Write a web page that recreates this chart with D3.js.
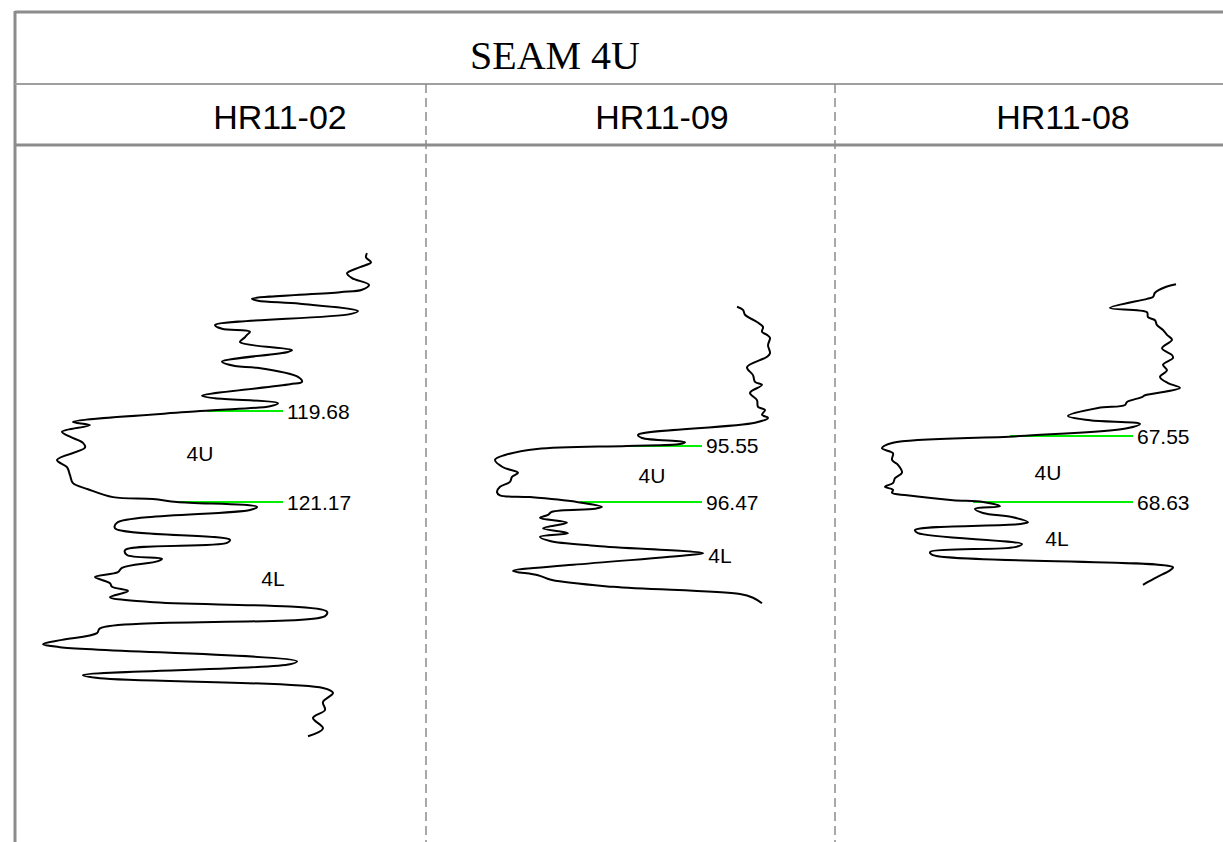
<!DOCTYPE html>
<meta charset="utf-8">
<style>
  html, body { margin: 0; padding: 0; background: #fff; }
  svg { display: block; }
</style>
<svg width="1223" height="842"></svg>
<script src="https://cdn.jsdelivr.net/npm/d3@7"></script>
<script>
// seam correlation, flattened on the 4L top
var title = "SEAM 4U"
var wells = ["HR11-02", "HR11-09", "HR11-08"]
var zones = ["4U", "4L"]

// picked tops (m): top of 4U, top of 4L
var tops = [[119.68, 121.17], [95.55, 96.47], [67.55, 68.63]]

// gamma log, [depth m, API]
var log_HR11_02 = [
  [117.09, 176], [117.16, 175.5], [117.24, 178], [117.32, 172.5], [117.42, 166], [117.50, 168.5],
  [117.61, 177], [117.69, 173.5], [117.73, 162.5], [117.84, 118.5], [117.87, 121.5], [117.92, 142.5],
  [118.04, 171.5], [118.09, 167.5], [118.27, 100], [118.33, 103.5], [118.38, 117.5], [118.43, 116],
  [118.47, 115], [118.55, 112.5], [118.68, 138.5], [118.71, 136.5], [118.87, 103.5], [118.94, 110],
  [118.97, 121], [119.12, 141.5], [119.20, 143.5], [119.24, 137.5], [119.43, 93.5], [119.47, 100],
  [119.55, 131.5], [119.60, 127.5], [119.68, 92.5], [119.86, 29], [119.91, 37.5], [120.02, 23.5],
  [120.10, 27.5], [120.20, 34], [120.28, 35], [120.48, 21], [120.60, 26], [120.73, 27.5],
  [120.86, 29], [120.96, 36.5], [121.09, 49], [121.12, 69], [121.17, 81], [121.25, 121],
  [121.30, 117.5], [121.51, 51], [121.60, 50], [121.79, 107.5], [121.84, 106], [121.96, 55],
  [122.04, 56], [122.10, 73.5], [122.14, 71.5], [122.25, 53.5], [122.32, 51.5], [122.40, 40],
  [122.50, 47.5], [122.56, 48.5], [122.63, 56.5], [122.73, 47.5], [122.81, 67.5], [122.97, 156],
  [123.04, 155], [123.24, 42.5], [123.32, 41], [123.43, 23.5], [123.50, 14], [123.55, 22.5],
  [123.78, 141], [123.83, 137.5], [124.01, 34], [124.06, 42.5], [124.22, 154], [124.30, 159],
  [124.45, 154], [124.58, 155], [124.71, 149], [124.88, 154], [125.01, 146.5]
]
var log_HR11_09 = [
  [93.27, 155.5], [93.32, 158.5], [93.40, 159.5], [93.52, 165.5], [93.60, 168.5], [93.68, 168],
  [93.73, 170.5], [93.78, 172], [93.90, 171], [94.03, 172], [94.09, 170.5], [94.26, 160.5],
  [94.39, 163.5], [94.50, 164.5], [94.55, 168], [94.68, 162], [94.80, 165.5], [94.91, 166],
  [94.96, 169.5], [95.04, 168], [95.09, 171], [95.17, 164.5], [95.37, 106], [95.42, 108],
  [95.49, 129.5], [95.52, 127], [95.55, 100.5], [95.60, 55.5], [95.70, 39.5], [95.78, 34.5],
  [95.90, 38.5], [95.99, 46], [96.06, 43], [96.14, 42], [96.22, 37], [96.31, 35.5],
  [96.36, 37], [96.39, 52], [96.47, 75.5], [96.55, 88], [96.58, 84.5], [96.63, 63],
  [96.68, 61], [96.73, 57], [96.81, 70.5], [96.90, 58.5], [96.98, 71], [97.04, 57],
  [97.11, 62], [97.19, 85.5], [97.31, 138.5], [97.34, 132], [97.50, 73.5], [97.60, 43.5],
  [97.67, 56], [97.75, 63], [97.86, 93.5], [97.98, 157], [98.04, 163.5], [98.13, 168]
]
var log_HR11_08 = [
  [65.06, 170.5], [65.11, 165], [65.20, 160], [65.27, 159], [65.30, 156], [65.45, 137.5],
  [65.52, 156], [65.60, 156.5], [65.65, 160], [65.73, 161], [65.81, 164], [65.89, 166],
  [65.97, 168.5], [66.11, 163.5], [66.22, 168.5], [66.27, 169], [66.38, 164], [66.47, 166],
  [66.58, 162.5], [66.68, 166.5], [66.76, 172.5], [66.88, 155], [66.91, 153.5], [66.99, 146],
  [67.04, 145], [67.09, 131.5], [67.22, 116.5], [67.29, 127.5], [67.35, 152.5], [67.42, 146],
  [67.55, 92.5], [67.66, 29], [67.75, 23.5], [67.83, 29], [67.94, 28.5], [68.02, 31.5],
  [68.15, 33.5], [68.24, 30], [68.32, 29], [68.38, 25], [68.43, 29], [68.48, 28.5],
  [68.52, 36], [68.60, 59], [68.63, 74], [68.70, 82.5], [68.74, 70], [68.81, 74],
  [68.88, 89], [68.96, 96.5], [68.99, 92.5], [69.09, 40], [69.14, 41.5], [69.32, 93.5],
  [69.37, 90], [69.45, 47.5], [69.50, 49], [69.70, 169], [69.75, 167.5], [69.86, 161],
  [69.94, 156.5], [69.99, 154]
]
var logs = [log_HR11_02, log_HR11_09, log_HR11_08]

// where the top markers start / end on the log axis (API)
var markerFrom = [[96, 81.5], [100.5, 77], [87.5, 69]]
var markerTo = [134, 138, 149]

// zone label anchors, [depth m, API] for 4U then 4L
var zoneLabelAt = [
  [[120.37, 92.5], [122.42, 129]],
  [[96.03, 113], [97.34, 147]],
  [[68.14, 106.5], [69.22, 111]]
]

var svg = d3.select("svg")
var frame = "#8c8c8c"

var colLeft = [15, 426, 835]
var colCenter = [280, 662, 1063]
var flatY = 502, pxPerM = 61

// frame
svg.append("line").attr("x1", 15).attr("x2", 1223).attr("y1", 12).attr("y2", 12)
  .attr("stroke", frame).attr("stroke-width", 3)
svg.append("line").attr("x1", 15).attr("x2", 15).attr("y1", 11).attr("y2", 842)
  .attr("stroke", frame).attr("stroke-width", 3)
svg.append("line").attr("x1", 15).attr("x2", 1223).attr("y1", 84).attr("y2", 84)
  .attr("stroke", "#a0a0a0").attr("stroke-width", 2)
svg.append("line").attr("x1", 15).attr("x2", 1223).attr("y1", 145).attr("y2", 145)
  .attr("stroke", frame).attr("stroke-width", 3)

;[426, 835].forEach(function(x) {
  svg.append("line").attr("x1", x).attr("x2", x).attr("y1", 84).attr("y2", 842)
    .attr("stroke", frame).attr("stroke-width", 1.5).attr("stroke-dasharray", "9,5")
})

svg.append("text")
  .attr("x", 555).attr("y", 69)
  .attr("text-anchor", "middle")
  .style("font-family", "'Liberation Serif', 'Times New Roman', serif")
  .style("font-size", "40px")
  .text(title)

wells.forEach(function(name, i) {
  svg.append("text")
    .attr("x", colCenter[i]).attr("y", 129)
    .attr("text-anchor", "middle")
    .style("font-family", "'Liberation Sans', Arial, sans-serif")
    .style("font-size", "34px")
    .text(name)

  var base = tops[i][1]
  var x = d3.scaleLinear().domain([0, 200]).range([colLeft[i], colLeft[i] + 400])
  var y = d3.scaleLinear().domain([base - 5, base + 5]).range([flatY - 5 * pxPerM, flatY + 5 * pxPerM])

  var g = svg.append("g")

  tops[i].forEach(function(d, j) {
    g.append("line")
      .attr("x1", x(markerFrom[i][j])).attr("x2", x(markerTo[i]))
      .attr("y1", y(d)).attr("y2", y(d))
      .attr("stroke", "#00ee00").attr("stroke-width", 2)
    g.append("text")
      .attr("x", x(markerTo[i]) + 4).attr("y", y(d))
      .attr("dy", "0.36em")
      .style("font-family", "'Liberation Sans', Arial, sans-serif")
      .style("font-size", "21px")
      .text(d.toFixed(2))
  })

  var line = d3.line()
    .x(function(d) { return x(d[1]) })
    .y(function(d) { return y(d[0]) })
    .curve(d3.curveCatmullRom.alpha(0.5))

  g.append("path")
    .datum(logs[i])
    .attr("fill", "none")
    .attr("stroke", "#000")
    .attr("stroke-width", 2)
    .attr("stroke-linejoin", "round")
    .attr("d", line)

  zones.forEach(function(z, j) {
    var p = zoneLabelAt[i][j]
    g.append("text")
      .attr("x", x(p[1])).attr("y", y(p[0]))
      .attr("dy", "0.36em")
      .attr("text-anchor", "middle")
      .style("font-family", "'Liberation Sans', Arial, sans-serif")
      .style("font-size", "21px")
      .text(z)
  })
})
</script>
